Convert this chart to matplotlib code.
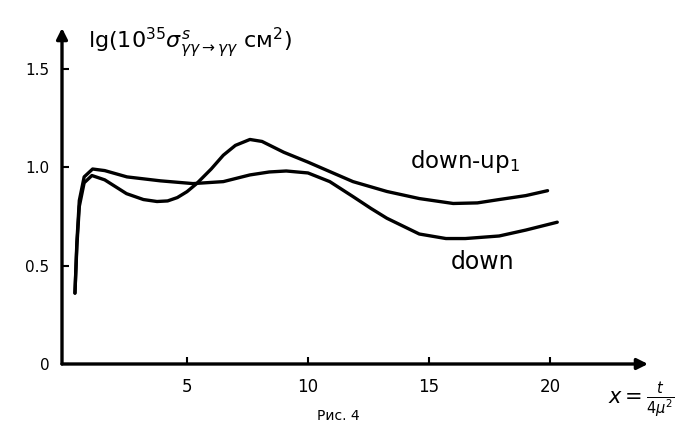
import matplotlib
matplotlib.use("Agg")
import matplotlib.pyplot as plt

# Кривые (x = t/4mu^2, lg sigma)
down_up_x = [0.37, 0.45, 0.55, 0.75, 1.07, 1.6, 2.5, 3.2, 3.76, 4.2, 4.6, 5.0, 5.4,
             6.0, 6.5, 7.0, 7.6, 8.1, 9.0, 10.0, 10.9, 11.86, 13.26, 14.6, 16.0,
             17.0, 17.9, 19.0, 19.9]
down_up_y = [0.36, 0.6, 0.8, 0.92, 0.957, 0.935, 0.865, 0.835, 0.825, 0.828, 0.845,
             0.875, 0.916, 0.99, 1.06, 1.11, 1.14, 1.13, 1.075, 1.025, 0.977, 0.926,
             0.876, 0.84, 0.815, 0.818, 0.835, 0.855, 0.88]

down_x = [0.37, 0.45, 0.55, 0.75, 1.1, 1.6, 2.52, 3.9, 5.25, 6.5, 7.6, 8.4, 9.1,
          10.0, 10.9, 11.86, 12.6, 13.26, 14.6, 15.7, 16.5, 17.9, 19.0, 20.3]
down_y = [0.36, 0.62, 0.83, 0.95, 0.99, 0.982, 0.95, 0.93, 0.916, 0.926, 0.96,
          0.975, 0.98, 0.97, 0.926, 0.85, 0.79, 0.74, 0.66, 0.637, 0.637, 0.65,
          0.68, 0.72]

x_ticks = [5, 10, 15, 20]
y_ticks = [0, 0.5, 1.0, 1.5]
y_tick_labels = ["0", "0.5", "1.0", "1.5"]

fig = plt.figure(figsize=(6.98, 4.25), dpi=100)
ax = fig.add_axes([62 / 698, (425 - 364) / 425, (648 - 62) / 698, (364 - 28) / 425])
ax.set_xlim(-0.165, 24.05)
ax.set_ylim(0, 1.706)

for s in ax.spines.values():
    s.set_visible(False)

# оси со стрелками
ax.annotate("", xy=(24.05, 0), xytext=(-0.165, 0),
            arrowprops=dict(arrowstyle="-|>", lw=2.4, color="black", mutation_scale=16,
                            shrinkA=0, shrinkB=0))
ax.annotate("", xy=(-0.165, 1.706), xytext=(-0.165, 0),
            arrowprops=dict(arrowstyle="-|>", lw=2.4, color="black", mutation_scale=16,
                            shrinkA=0, shrinkB=0))

ax.plot(down_up_x, down_up_y, color="black", lw=2.4, solid_joinstyle="round",
        solid_capstyle="round")
ax.plot(down_x, down_y, color="black", lw=2.4, solid_joinstyle="round",
        solid_capstyle="round")

ax.set_xticks(x_ticks)
ax.set_xticklabels([str(t) for t in x_ticks], fontsize=12)
ax.set_yticks(y_ticks)
ax.set_yticklabels(y_tick_labels, fontsize=11)
ax.tick_params(axis="both", direction="in", length=5, width=1.5)
ax.tick_params(axis="x", pad=10)
ax.tick_params(axis="y", pad=9)

ax.text(0.9, 1.63, r"lg$(10^{35}\sigma^{s}_{\gamma\gamma\rightarrow\gamma\gamma}$ см$^{2})$",
        fontsize=16, va="center", ha="left")
ax.text(14.2, 1.03, r"down-up$_{1}$", fontsize=16.5, va="center", ha="left")
ax.text(15.9, 0.52, "down", fontsize=17, va="center", ha="left")

fig.text(608 / 698, 1 - 400 / 425, r"$x = \frac{t}{4\mu^2}$", fontsize=15,
         va="center", ha="left")
fig.text(317 / 698, 1 - 423 / 425, "Рис. 4", fontsize=10, va="bottom", ha="left")

fig.savefig("out.png", dpi=100)
